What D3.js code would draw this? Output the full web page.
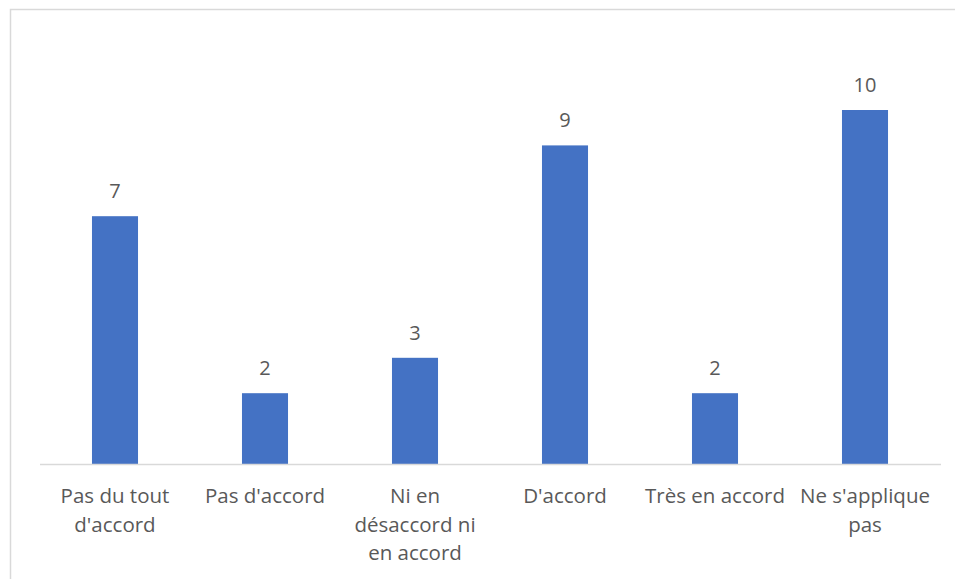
<!DOCTYPE html>
<html>
<head>
<meta charset="utf-8">
<script src="https://cdn.jsdelivr.net/npm/d3@7"></script>
<style>
  html, body { margin: 0; padding: 0; background: #fff; }
  svg { display: block; }
</style>
</head>
<body>
<svg id="chart" width="955" height="579"></svg>
<script>
// Survey responses per answer option
const categories = [
  ["Pas du tout", "d'accord"],
  ["Pas d'accord"],
  ["Ni en", "désaccord ni", "en accord"],
  ["D'accord"],
  ["Très en accord"],
  ["Ne s'applique", "pas"]
];
const values = [7, 2, 3, 9, 2, 10];

const W = 955, H = 579;
const svg = d3.select("#chart");
const font = "'Open Sans', sans-serif";
const textColor = "#595959";

// outer chart frame
svg.append("rect")
  .attr("x", 10.5).attr("y", 9.5)
  .attr("width", 960).attr("height", 600)
  .attr("fill", "#fff")
  .attr("stroke", "#d9d9d9").attr("stroke-width", 1.5);

const left = 40, right = 940, baseY = 464;
const keys = categories.map((c, i) => i);

const x = d3.scaleBand().domain(keys).range([left, right]).paddingInner(0.693).paddingOuter(0.3465);
const y = d3.scaleLinear().domain([0, 12]).range([baseY, baseY - 12 * 35.4]);

// bars
svg.append("g").selectAll("rect")
  .data(values)
  .join("rect")
  .attr("x", (d, i) => x(i))
  .attr("y", d => y(d))
  .attr("width", x.bandwidth())
  .attr("height", d => y(0) - y(d))
  .attr("fill", "#4472C4");

// value labels
svg.append("g").selectAll("text")
  .data(values)
  .join("text")
  .attr("x", (d, i) => x(i) + x.bandwidth() / 2)
  .attr("y", d => y(d) - 18)
  .attr("text-anchor", "middle")
  .attr("font-family", font)
  .attr("font-size", 20)
  .attr("fill", textColor)
  .text(d => d);

// category axis
const axis = d3.axisBottom(x).tickSize(0).tickFormat("");
const gx = svg.append("g").attr("transform", `translate(0,${baseY})`).call(axis);
gx.select(".domain").attr("stroke", "#d9d9d9").attr("stroke-width", 1.5)
  .attr("d", `M${left},0.5H${right + 1}`);

const labels = svg.append("g");
categories.forEach((lines, i) => {
  const t = labels.append("text")
    .attr("x", x(i) + x.bandwidth() / 2)
    .attr("y", 503)
    .attr("text-anchor", "middle")
    .attr("font-family", font)
    .attr("font-size", 20.5)
    .attr("fill", textColor);
  lines.forEach((ln, j) => {
    t.append("tspan")
      .attr("x", x(i) + x.bandwidth() / 2)
      .attr("y", 503 + j * 28.5)
      .text(ln);
  });
});
</script>
</body>
</html>
